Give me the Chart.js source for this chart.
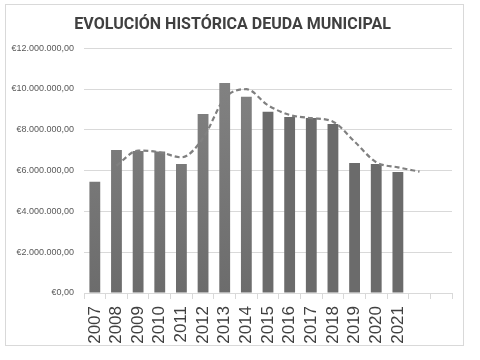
<!DOCTYPE html>
<html lang="es">
<head>
    <meta charset="UTF-8">
    <title>Evolución histórica deuda municipal</title>
    <script src="https://cdn.jsdelivr.net/npm/chart.js"></script>
    <style>
        body {
            margin: 0;
            background-color: #fff;
        }
        .wrap {
            position: relative;
            width: 480px;
            height: 360px;
        }
    </style>
</head>
<body>

<div class="wrap">
    <canvas id="deudaChart" width="480" height="360"></canvas>
</div>

<script>
// años del eje (los dos últimos quedan vacíos, como en la hoja original)
const years = ['2007', '2008', '2009', '2010', '2011', '2012', '2013', '2014',
    '2015', '2016', '2017', '2018', '2019', '2020', '2021', '', ''];

// deuda viva a final de año (€)
const debt = [5450000, 7010000, 6960000, 6940000, 6320000, 8780000, 10300000, 9620000,
    8880000, 8630000, 8580000, 8290000, 6370000, 6320000, 5930000, null, null];

// línea de tendencia (media móvil de 2 periodos)
const trend = [null, 6240000, 6980000, 6900000, 6650000, 7590000, 9550000, 9990000,
    9200000, 8730000, 8570000, 8400000, 7420000, 6410000, 6160000, 5950000, null];

const yTicks = [0, 2000000, 4000000, 6000000, 8000000, 10000000, 12000000];

function euro(v) {
    const s = String(Math.round(v)).replace(/\B(?=(\d{3})+(?!\d))/g, '.');
    return '€' + s + ',00';
}

// los primeros años tienen un relleno degradado algo más claro
function barColor(context) {
    const chart = context.chart;
    const area = chart.chartArea;
    if (!area) return '#6e6e6e';
    if (context.dataIndex < 8) {
        const g = chart.ctx.createLinearGradient(0, area.top, 0, area.bottom);
        g.addColorStop(0, '#858585');
        g.addColorStop(1, '#6c6c6c');
        return g;
    }
    return '#6b6b6b';
}

// marco gris alrededor del gráfico
const frame = {
    id: 'frame',
    beforeDraw(chart) {
        const ctx = chart.ctx;
        ctx.save();
        ctx.fillStyle = '#fff';
        ctx.fillRect(0, 0, chart.width, chart.height);
        ctx.strokeStyle = '#d9d9d9';
        ctx.lineWidth = 1;
        ctx.strokeRect(5.5, 4.5, 458, 341);
        ctx.restore();
    }
};

new Chart(document.getElementById('deudaChart'), {
    data: {
        labels: years,
        datasets: [{
            type: 'line',
            data: trend,
            borderColor: '#808080',
            borderWidth: 2.2,
            borderDash: [5, 3],
            pointRadius: 0,
            cubicInterpolationMode: 'monotone',
            spanGaps: false,
            order: 0
        }, {
            type: 'bar',
            data: debt,
            backgroundColor: barColor,
            barPercentage: 0.5,
            categoryPercentage: 1,
            order: 1
        }]
    },
    options: {
        responsive: false,
        animation: false,
        layout: {
            padding: { left: 5, right: 28, top: 0, bottom: 0 }
        },
        plugins: {
            legend: { display: false },
            tooltip: { enabled: false },
            title: {
                display: true,
                // el espacio inicial desplaza el título un poco a la derecha, como en el original
                text: '\u2002EVOLUCIÓN HISTÓRICA DEUDA MUNICIPAL',
                color: '#404040',
                font: { family: 'Roboto', size: 16, weight: 'bold' },
                padding: { top: 15, bottom: 14 }
            }
        },
        scales: {
            x: {
                grid: {
                    offset: true,
                    drawOnChartArea: false,
                    drawTicks: true,
                    tickLength: 6,
                    color: '#d9d9d9'
                },
                border: { color: '#d9d9d9' },
                ticks: {
                    minRotation: 90,
                    maxRotation: 90,
                    autoSkip: false,
                    padding: 7,
                    color: '#404040',
                    font: { family: 'Liberation Sans', size: 17 }
                },
                afterFit(scale) {
                    scale.height = 67;
                }
            },
            y: {
                min: 0,
                max: 12000000,
                afterBuildTicks(scale) {
                    scale.ticks = yTicks.map(v => ({ value: v }));
                },
                grid: {
                    color: '#d9d9d9',
                    drawTicks: false
                },
                border: { display: false },
                ticks: {
                    padding: 10,
                    color: '#595959',
                    font: { family: 'Liberation Sans', size: 9 },
                    callback: v => euro(v)
                },
                afterFit(scale) {
                    scale.width = 79;
                }
            }
        }
    },
    plugins: [frame]
});
</script>

</body>
</html>
